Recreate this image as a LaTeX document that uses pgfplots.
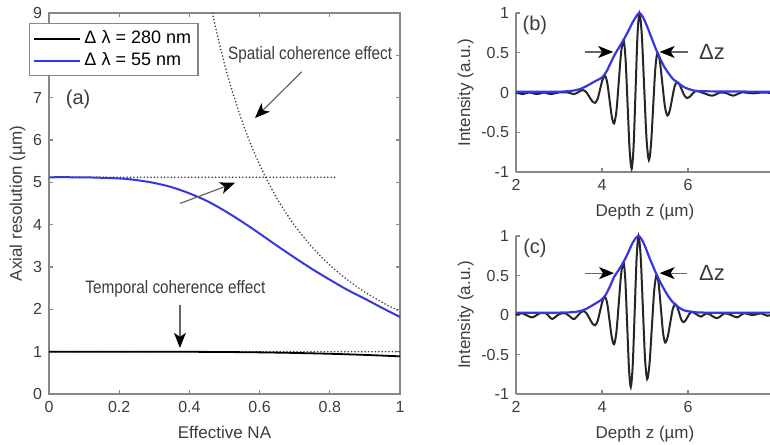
\documentclass[border=0pt]{standalone}
\usepackage{fontspec}
\setmainfont{Liberation Sans}
\newfontfamily\narrowfont{Liberation Sans}[FakeStretch=0.85]
\usepackage{pgfplots}
\pgfplotsset{compat=1.18}
\usetikzlibrary{arrows.meta}
\definecolor{axgray}{RGB}{135,135,135}
\definecolor{txtgray}{RGB}{60,60,60}
\definecolor{matblue}{RGB}{55,55,225}

\pgfplotsset{
  matstyle/.style={
    scale only axis,
    axis line style={axgray, line width=0.7pt},
    tick style={axgray, line width=0.6pt},
    major tick length=2pt,
    tick align=inside,
    tick label style={font=\fontsize{8}{9}\selectfont, text=txtgray},
    label style={font=\fontsize{8.5}{9}\selectfont, text=txtgray},
    ylabel style={yshift=-3pt},
    /pgf/number format/assume math mode=true,
  },
}
\tikzset{
  ann/.style={black!60, line width=0.6pt, -{Stealth[length=7.5pt,width=6pt,inset=2pt,black]}},
  dots/.style={black!75, line width=0.9pt, line cap=round, dash pattern=on 0pt off 1.7pt},
}

\begin{document}
\begin{tikzpicture}
\path[use as bounding box] (0,0) rectangle (385pt,222pt);

% (a) axial resolution vs effective NA
\begin{axis}[matstyle,
  at={(24.5pt,25pt)}, anchor=south west,
  width=175.5pt, height=190.5pt,
  xmin=0, xmax=1, ymin=0, ymax=9,
  xtick={0,0.2,0.4,0.6,0.8,1},
  ytick={0,1,2,3,4,5,6,7,8,9},
  xlabel={Effective NA},
  ylabel={Axial resolution (µm)},
  legend style={at={(-0.057,0.974)}, anchor=north west,
    draw=axgray, line width=0.7pt, fill=white,
    font=\fontsize{9}{10}\selectfont, text=black,
    inner sep=1.5pt, row sep=-1pt, cells={anchor=west}},
  legend image code/.code={\draw[#1,line width=0.9pt] (0pt,0pt) -- (23pt,0pt);},
]
\addplot[forget plot, dots] coordinates {(0,5.12) (0.82,5.12)};
\addplot[forget plot, dots] coordinates {(0,1) (1,1)};
\addplot[forget plot, dots, smooth]
  coordinates {(0.4655,9.0) (0.48,8.464) (0.5,7.8) (0.52,7.212) (0.55,6.446)
    (0.575,5.898) (0.6,5.417) (0.625,4.992) (0.65,4.615) (0.675,4.280)
    (0.7,3.980) (0.725,3.710) (0.75,3.467) (0.775,3.247) (0.8,3.047)
    (0.825,2.865) (0.85,2.699) (0.875,2.547) (0.9,2.407) (0.925,2.279)
    (0.95,2.161) (0.975,2.051) (1.0,1.95)};
\addplot[black, line width=0.9pt, smooth]
  coordinates {(0,1.000) (0.1,1.000) (0.2,0.9998) (0.3,0.9989) (0.4,0.9967)
    (0.5,0.9919) (0.6,0.9834) (0.7,0.9699) (0.8,0.9501) (0.9,0.9235) (1.0,0.8898)};
\addlegendentry{Δ λ = 280 nm}
\addplot[matblue, line width=1pt, smooth]
  coordinates {(0,5.120) (0.1,5.118) (0.2,5.092) (0.25,5.052) (0.3,4.985)
    (0.35,4.885) (0.4,4.740) (0.45,4.56) (0.5,4.33) (0.55,4.07) (0.6,3.79)
    (0.65,3.50) (0.7,3.22) (0.75,2.95) (0.8,2.70) (0.85,2.46) (0.9,2.25)
    (0.95,2.03) (1.0,1.82)};
\addlegendentry{Δ λ = 55 nm}
\node[font=\fontsize{10}{11}\selectfont, text=txtgray] at (axis cs:0.083,6.95) {(a)};
\node[font=\narrowfont\fontsize{9}{10}\selectfont, text=txtgray] at (axis cs:0.744,8.01) {Spatial coherence effect};
\node[font=\narrowfont\fontsize{9}{10}\selectfont, text=txtgray] at (axis cs:0.36,2.48) {Temporal coherence effect};
\draw[ann] (axis cs:0.72,7.61) -- (axis cs:0.587,6.52);
\draw[ann] (axis cs:0.373,4.50) -- (axis cs:0.53,4.99);
\draw[ann] (axis cs:0.373,2.10) -- (axis cs:0.373,1.09);
\end{axis}

% (b) interferogram, 280 nm
\begin{axis}[matstyle,
  at={(258pt,136pt)}, anchor=south west,
  width=129pt, height=79.5pt,
  xmin=2, xmax=8, ymin=-1, ymax=1,
  axis x line*=bottom, axis y line*=left,
  xtick={2,4,6,8}, ytick={-1,-0.5,0,0.5,1},
  xlabel={Depth z (µm)}, ylabel={Intensity (a.u.)},
  clip=false,
]
\addplot[black!85, line width=1pt, smooth]
  coordinates {(2.0,0.0) (2.16,-0.02) (2.3,0.0) (2.5,-0.02) (2.65,0.0) (2.8,-0.02)
    (3.0,0.0) (3.2,0.0) (3.34,-0.02) (3.395,-0.013) (3.45,0.005) (3.505,0.023)
    (3.56,0.03) (3.63,0.007) (3.70,-0.05) (3.77,-0.107) (3.84,-0.13)
    (3.8975,-0.080) (3.955,0.04) (4.0125,0.160) (4.07,0.21) (4.1225,0.122)
    (4.175,-0.09) (4.2275,-0.302) (4.28,-0.39) (4.335,-0.236) (4.39,0.135)
    (4.445,0.506) (4.50,0.66) (4.5475,0.423) (4.595,-0.15) (4.6425,-0.723)
    (4.69,-0.96) (4.735,-0.673) (4.78,0.02) (4.825,0.713) (4.87,1.0)
    (4.925,0.729) (4.98,0.075) (5.035,-0.579) (5.09,-0.85) (5.14,-0.652)
    (5.19,-0.175) (5.24,0.302) (5.29,0.50) (5.3475,0.384) (5.405,0.105)
    (5.4625,-0.174) (5.52,-0.29) (5.575,-0.229) (5.63,-0.08) (5.685,0.069)
    (5.74,0.13) (5.80,0.101) (5.86,0.03) (5.92,-0.041) (5.98,-0.07)
    (6.035,-0.057) (6.09,-0.025) (6.145,0.007) (6.2,0.02) (6.35,-0.005)
    (6.56,-0.04) (6.75,0.0) (6.9,-0.01) (7.05,-0.04) (7.25,0.0) (7.5,-0.01)
    (7.75,0.0) (8.0,-0.01)};
\addplot[matblue, line width=1.1pt, smooth]
  coordinates {(2.0,0.01) (3.0,0.01) (3.4,0.03) (3.6,0.07) (3.8,0.13) (4.0,0.19)
    (4.1,0.26) (4.2,0.37) (4.3,0.48) (4.4,0.57) (4.5,0.66) (4.6,0.76) (4.7,0.87)
    (4.8,0.96) (4.87,1.0) (4.95,0.95) (5.05,0.83) (5.15,0.69) (5.25,0.55)
    (5.35,0.43) (5.45,0.32) (5.55,0.24) (5.65,0.17) (5.75,0.13) (5.9,0.07)
    (6.1,0.03) (6.4,0.015) (8.0,0.01)};
\node[font=\fontsize{10}{11}\selectfont, text=txtgray] at (axis cs:2.44,0.85) {(b)};
\node[font=\fontsize{11}{12}\selectfont, text=txtgray] at (axis cs:6.56,0.51) {Δz};
\draw[ann] (axis cs:3.60,0.51) -- (axis cs:4.26,0.51);
\draw[ann] (axis cs:6.00,0.51) -- (axis cs:5.34,0.51);
\end{axis}

% (c) interferogram, 55 nm
\begin{axis}[matstyle,
  at={(258pt,25pt)}, anchor=south west,
  width=129pt, height=79pt,
  xmin=2, xmax=8, ymin=-1, ymax=1,
  axis x line*=bottom, axis y line*=left,
  xtick={2,4,6,8}, ytick={-1,-0.5,0,0.5,1},
  xlabel={Depth z (µm)}, ylabel={Intensity (a.u.)},
  clip=false,
]
\addplot[black!85, line width=1pt, smooth]
  coordinates {(2.0,0.0) (2.15,0.02) (2.37,-0.03) (2.55,0.02) (2.7,0.02)
    (2.84,-0.05) (3.0,0.01) (3.15,0.02) (3.33,-0.05) (3.39,-0.035) (3.45,0.0)
    (3.51,0.035) (3.57,0.05) (3.6375,0.024) (3.705,-0.04) (3.7725,-0.104)
    (3.84,-0.13) (3.8975,-0.077) (3.955,0.05) (4.0125,0.177) (4.07,0.23)
    (4.1225,0.142) (4.175,-0.07) (4.2275,-0.282) (4.28,-0.37) (4.335,-0.218)
    (4.39,0.15) (4.445,0.518) (4.50,0.67) (4.5425,0.439) (4.585,-0.12)
    (4.6275,-0.679) (4.67,-0.91) (4.715,-0.630) (4.76,0.045) (4.805,0.720)
    (4.85,1.0) (4.90,0.735) (4.95,0.095) (5.00,-0.545) (5.05,-0.81)
    (5.105,-0.617) (5.16,-0.15) (5.215,0.317) (5.27,0.51) (5.32,0.384)
    (5.37,0.08) (5.42,-0.224) (5.47,-0.35) (5.5275,-0.278) (5.585,-0.105)
    (5.6425,0.068) (5.70,0.14) (5.7475,0.106) (5.795,0.025) (5.8425,-0.056)
    (5.89,-0.09) (5.94,-0.071) (5.99,-0.025) (6.04,0.021) (6.09,0.04)
    (6.195,0.01) (6.3,-0.02) (6.45,0.02) (6.67,-0.04) (6.85,0.02) (7.0,0.0)
    (7.14,-0.03) (7.3,0.02) (7.5,0.0) (7.7,0.02) (7.85,-0.01) (8.0,0.02)};
\addplot[matblue, line width=1.1pt, smooth]
  coordinates {(2.0,0.03) (3.0,0.03) (3.4,0.04) (3.6,0.07) (3.8,0.13) (4.0,0.2)
    (4.1,0.27) (4.2,0.38) (4.28,0.48) (4.4,0.58) (4.5,0.67) (4.6,0.78) (4.7,0.9)
    (4.78,0.97) (4.85,1.0) (4.92,0.96) (5.0,0.87) (5.1,0.73) (5.2,0.6)
    (5.27,0.51) (5.35,0.42) (5.45,0.32) (5.55,0.23) (5.65,0.16) (5.75,0.11)
    (5.9,0.06) (6.1,0.04) (6.4,0.03) (8.0,0.03)};
\node[font=\fontsize{10}{11}\selectfont, text=txtgray] at (axis cs:2.44,0.85) {(c)};
\node[font=\fontsize{11}{12}\selectfont, text=txtgray] at (axis cs:6.56,0.53) {Δz};
\draw[ann] (axis cs:3.60,0.53) -- (axis cs:4.28,0.53);
\draw[ann] (axis cs:5.98,0.53) -- (axis cs:5.34,0.53);
\end{axis}
\end{tikzpicture}
\end{document}
